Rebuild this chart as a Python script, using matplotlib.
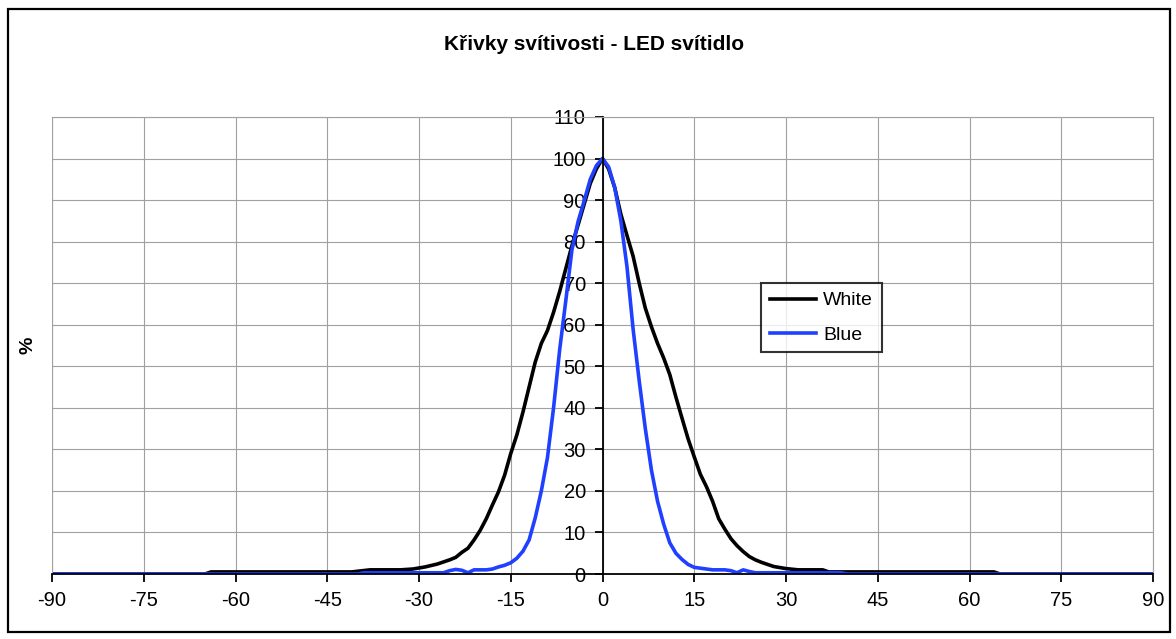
import matplotlib.pyplot as plt
from matplotlib.patches import Rectangle

plt.rcParams['font.family'] = ['Liberation Sans', 'DejaVu Sans']
plt.rcParams['axes.unicode_minus'] = False

# úhly a hodnoty svítivosti (%)
white_angles = [-90, -65, -64, -41, -38, -33, -31, -29, -27, -25, -24, -23, -22, -21, -20,
                -19, -18, -17, -16, -15, -14, -13, -12, -11, -10, -9, -8, -7, -6, -5, -4,
                -3, -2, -1, 0, 1, 2, 3, 4, 5, 6, 7, 8, 9, 10, 11, 12, 13, 14, 15, 16, 17,
                18, 19, 20, 21, 22, 23, 24, 25, 26, 27, 28, 30, 32, 36, 37, 64, 65, 90]
white_vals = [0, 0, 0.5, 0.5, 1, 1, 1.2, 1.7, 2.4, 3.4, 4.0, 5.2, 6.2, 8.2, 10.5,
              13.3, 16.6, 19.8, 23.8, 29, 33.5, 39, 45, 51, 55.5, 58.6, 63, 68, 73.5, 79, 84,
              89, 94, 97.5, 100, 97.5, 93, 86.6, 81.5, 76.5, 70, 64, 59.5, 55.5, 52, 48, 42.6,
              37.5, 32.5, 28.2, 24, 21, 17.5, 13.3, 10.8, 8.5, 6.8, 5.4, 4.2, 3.4, 2.8, 2.3,
              1.8, 1.3, 1.0, 1.0, 0.5, 0.5, 0, 0]

blue_angles = [-90, -40, -39, -26, -25, -24, -23, -22, -21, -19, -18, -17, -16, -15, -14,
               -13, -12, -11, -10, -9, -8, -7, -6, -5, -4, -3, -2, -1, 0, 1, 2, 3, 4, 5, 6,
               7, 8, 9, 10, 11, 12, 13, 14, 15, 16, 17, 18, 20, 21, 22, 23, 24, 25, 39, 40, 90]
blue_vals = [0, 0, 0.3, 0.3, 0.8, 1.1, 0.9, 0.3, 1.0, 1.0, 1.2, 1.7, 2.1, 2.7, 3.8,
             5.5, 8.2, 13.5, 20, 28, 40, 54, 65.8, 78, 84.8, 89.8, 95, 98.3, 100, 98, 93, 85,
             74, 59, 46.5, 35, 25, 17.5, 12, 7.5, 5, 3.5, 2.3, 1.6, 1.4, 1.2, 1.0, 1.0, 0.8,
             0.3, 1.0, 0.6, 0.3, 0.3, 0, 0]

x_ticks = list(range(-90, 91, 15))
y_ticks = list(range(0, 111, 10))

W, H = 1176, 639
fig = plt.figure(figsize=(W / 100, H / 100), dpi=100)
ax = fig.add_axes([52 / W, 1 - 574 / H, (1153 - 52) / W, (574 - 117) / H])

# rámeček kolem celého grafu
fig.patches.append(Rectangle((8 / W, 1 - 632 / H), 1162 / W, 623 / H,
                             transform=fig.transFigure, fill=False, ec='black', lw=1.6))

ax.plot(white_angles, white_vals, color='black', lw=2.6, label='White')
ax.plot(blue_angles, blue_vals, color='#2040ff', lw=2.6, label='Blue')

ax.set_xlim(-90, 90)
ax.set_ylim(0, 110)
ax.set_xticks(x_ticks)
ax.set_yticks(y_ticks)
ax.grid(True, color='#a0a0a0', lw=0.8)
ax.axvline(-90, color='#a0a0a0', lw=0.8)

ax.spines['top'].set_color('#a0a0a0')
ax.spines['right'].set_color('#a0a0a0')
ax.spines['top'].set_linewidth(0.8)
ax.spines['right'].set_linewidth(0.8)
ax.spines['left'].set_position(('data', 0))
ax.spines['left'].set_linewidth(1.3)
ax.spines['bottom'].set_linewidth(1.3)
ax.tick_params(direction='out', length=6, width=1.3, labelsize=14.5)
ax.tick_params(axis='x', pad=6)
ax.tick_params(axis='y', pad=6)
ax.set_axisbelow(True)

fig.text(28 / W, 1 - 345 / H, '%', rotation=90, fontsize=14, fontweight='bold',
         ha='center', va='center')
fig.text(594 / W, 1 - 44 / H, 'Křivky svítivosti - LED svítidlo', fontsize=15,
         fontweight='bold', ha='center', va='center')

leg = ax.legend(loc='upper left', bbox_to_anchor=((761 - 52) / 1101, (574 - 283) / 457),
                borderaxespad=0, fontsize=14, frameon=True, fancybox=False,
                edgecolor='black', handlelength=2.4, handletextpad=0.35,
                borderpad=0.45, labelspacing=0.85)
leg.get_frame().set_linewidth(1.5)

fig.savefig('out.png', dpi=100)
